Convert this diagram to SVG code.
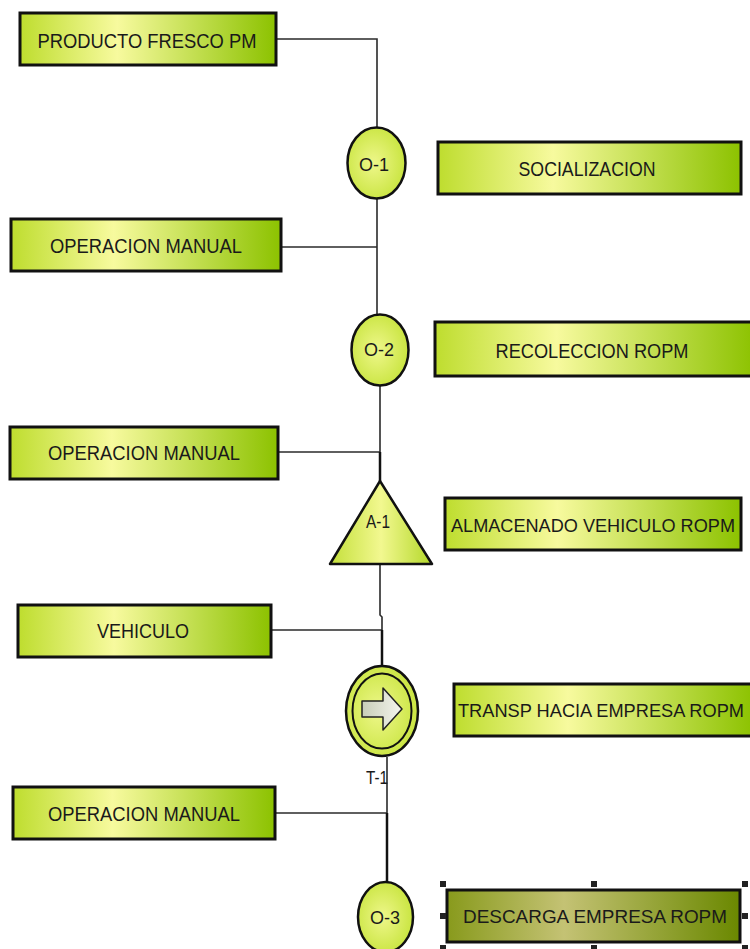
<svg xmlns="http://www.w3.org/2000/svg" width="750" height="949" viewBox="0 0 750 949">
<defs>
<linearGradient id="gBox" x1="0" y1="0" x2="1" y2="0">
<stop offset="0" stop-color="#bedd2e"/>
<stop offset="0.38" stop-color="#f7fa9e"/>
<stop offset="1" stop-color="#8cc200"/>
</linearGradient>
<linearGradient id="gSel" x1="0" y1="0" x2="1" y2="0">
<stop offset="0" stop-color="#889a1c"/>
<stop offset="0.4" stop-color="#c4c274"/>
<stop offset="1" stop-color="#6a8800"/>
</linearGradient>
<radialGradient id="gCirc" cx="0.45" cy="0.5" r="0.6">
<stop offset="0" stop-color="#eef78a"/>
<stop offset="1" stop-color="#c6e33a"/>
</radialGradient>
<linearGradient id="gTri" x1="0" y1="0" x2="1" y2="0">
<stop offset="0" stop-color="#c4e03a"/>
<stop offset="0.5" stop-color="#f2f890"/>
<stop offset="1" stop-color="#b4d82a"/>
</linearGradient>
<linearGradient id="gArrow" x1="0" y1="0" x2="1" y2="0">
<stop offset="0" stop-color="#c8cdb8"/>
<stop offset="1" stop-color="#f4f5ee"/>
</linearGradient>
</defs>
<style>
.box{fill:url(#gBox);stroke:#111;stroke-width:3}
.circ{fill:url(#gCirc);stroke:#111;stroke-width:2.5}
.t{font-family:"Liberation Sans",Arial,sans-serif;font-size:21px;fill:#1a1a1a;text-anchor:middle;dominant-baseline:central}
.tl{font-family:"Liberation Sans",Arial,sans-serif;font-size:18.3px;fill:#1a1a1a;text-anchor:middle;dominant-baseline:central}
.s{font-family:"Liberation Sans",Arial,sans-serif;font-size:18px;fill:#1a1a1a;text-anchor:middle;dominant-baseline:central}
.ln{fill:none;stroke:#2a2a2a;stroke-width:1.6}
.h{fill:#222}
</style>
<g id="connectors">
<polyline class="ln" points="277,39 377,39 377,128"/>
<line class="ln" x1="377" y1="199" x2="377" y2="314"/>
<line class="ln" x1="282" y1="247" x2="377" y2="247"/>
<line class="ln" x1="380" y1="386" x2="380" y2="481"/>
<line class="ln" x1="279" y1="452" x2="380" y2="452"/>
<line x1="380" y1="452" x2="380" y2="481" stroke="#111" stroke-width="2.5"/>
<polyline class="ln" points="380,564 380,615 382,617 382,666"/>
<line class="ln" x1="272" y1="630" x2="382" y2="630"/>
<line x1="382" y1="630" x2="382" y2="666" stroke="#111" stroke-width="2.5"/>
<line class="ln" x1="387" y1="757" x2="387" y2="883"/>
<line class="ln" x1="276" y1="813" x2="387" y2="813"/>
<line x1="387" y1="813" x2="387" y2="883" stroke="#111" stroke-width="2.5"/>
</g>
<g id="producto-fresco">
<rect class="box" x="20" y="13" width="256" height="52"/>
<text class="t" x="147" y="40" textLength="219" lengthAdjust="spacingAndGlyphs">PRODUCTO FRESCO PM</text>
</g>
<g id="op-manual-1">
<rect class="box" x="11" y="219" width="270" height="52"/>
<text class="t" x="146" y="245" textLength="192" lengthAdjust="spacingAndGlyphs">OPERACION MANUAL</text>
</g>
<g id="o1">
<ellipse class="circ" cx="376.5" cy="163" rx="29" ry="35.5"/>
<text class="s" x="374" y="165" textLength="30" lengthAdjust="spacingAndGlyphs">O-1</text>
</g>
<g id="socializacion">
<rect class="box" x="438" y="142" width="303" height="52"/>
<text class="t" x="587" y="168" textLength="137" lengthAdjust="spacingAndGlyphs">SOCIALIZACION</text>
</g>
<g id="o2">
<ellipse class="circ" cx="380" cy="350" rx="28.5" ry="35.5"/>
<text class="s" x="379" y="350" textLength="30" lengthAdjust="spacingAndGlyphs">O-2</text>
</g>
<g id="recoleccion">
<rect class="box" x="435" y="322" width="320" height="54"/>
<text class="t" x="592" y="350" textLength="193" lengthAdjust="spacingAndGlyphs">RECOLECCION ROPM</text>
</g>
<g id="op-manual-2">
<rect class="box" x="10" y="427" width="268" height="52"/>
<text class="t" x="144" y="452" textLength="192" lengthAdjust="spacingAndGlyphs">OPERACION MANUAL</text>
</g>
<g id="a1">
<polygon points="380,481 432,564 330,564" fill="url(#gTri)" stroke="#111" stroke-width="2.5" stroke-linejoin="round"/>
<text class="s" x="378" y="522" textLength="24" lengthAdjust="spacingAndGlyphs">A-1</text>
</g>
<g id="almacenado">
<rect class="box" x="445" y="498" width="296" height="52"/>
<text class="tl" x="593" y="525" textLength="284" lengthAdjust="spacingAndGlyphs">ALMACENADO VEHICULO ROPM</text>
</g>
<g id="vehiculo">
<rect class="box" x="18" y="605" width="253" height="52"/>
<text class="t" x="143" y="630" textLength="92" lengthAdjust="spacingAndGlyphs">VEHICULO</text>
</g>
<g id="t1">
<ellipse class="circ" cx="382" cy="711" rx="36" ry="45"/>
<ellipse cx="382" cy="711" rx="29.5" ry="37.5" fill="none" stroke="#111" stroke-width="2"/>
<polygon points="362,701 383,701 383,688 402,709 383,730 383,717 362,717" fill="url(#gArrow)" stroke="#222" stroke-width="1.5" stroke-linejoin="round"/>
<text class="s" x="377" y="778" textLength="22" lengthAdjust="spacingAndGlyphs">T-1</text>
</g>
<g id="transp">
<rect class="box" x="454" y="684" width="300" height="52"/>
<text class="tl" x="601" y="710" textLength="286" lengthAdjust="spacingAndGlyphs">TRANSP HACIA EMPRESA ROPM</text>
</g>
<g id="op-manual-3">
<rect class="box" x="13" y="787" width="262" height="52"/>
<text class="t" x="144" y="813" textLength="192" lengthAdjust="spacingAndGlyphs">OPERACION MANUAL</text>
</g>
<g id="o3">
<ellipse class="circ" cx="385.5" cy="917" rx="27.5" ry="35"/>
<text class="s" x="385" y="918" textLength="30" lengthAdjust="spacingAndGlyphs">O-3</text>
</g>
<g id="descarga">
<rect x="447" y="890" width="293" height="52" fill="url(#gSel)" stroke="#111" stroke-width="3"/>
<text class="tl" x="595" y="916" textLength="264" lengthAdjust="spacingAndGlyphs">DESCARGA EMPRESA ROPM</text>
<rect class="h" x="440" y="881" width="6" height="6"/>
<rect class="h" x="591" y="881" width="6" height="6"/>
<rect class="h" x="742" y="881" width="6" height="6"/>
<rect class="h" x="440" y="913" width="6" height="6"/>
<rect class="h" x="742" y="913" width="6" height="6"/>
<rect class="h" x="440" y="945" width="6" height="6"/>
<rect class="h" x="591" y="945" width="6" height="6"/>
<rect class="h" x="742" y="945" width="6" height="6"/>
</g>
</svg>
